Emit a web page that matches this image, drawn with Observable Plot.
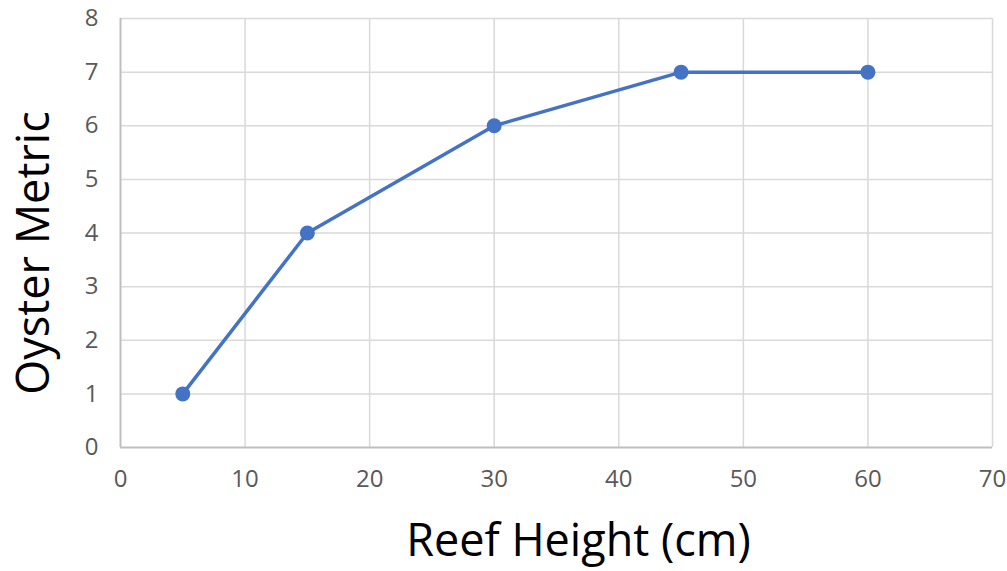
<!DOCTYPE html>
<html>
<head>
<meta charset="utf-8">
<script src="https://cdn.jsdelivr.net/npm/d3@7"></script>
<script src="https://cdn.jsdelivr.net/npm/@observablehq/plot@0.6"></script>
<style>
  html, body { margin: 0; padding: 0; }
  body { width: 1007px; height: 571px; overflow: hidden; }
  #chart svg { background: linear-gradient(to bottom, #e7e7e7, #dcdcdc); display: block; }
  #chart svg g[aria-label="x-axis tick label"],
  #chart svg g[aria-label="y-axis tick label"] { font-size: 24px !important; }
</style>
</head>
<body>
<div id="chart"></div>
<script>
const reefHeight = [5, 15, 30, 45, 60];
const oysterMetric = [1, 4, 6, 7, 7];
const xTicks = [0, 10, 20, 30, 40, 50, 60, 70];
const yTicks = [0, 1, 2, 3, 4, 5, 6, 7, 8];
const xTitle = "Reef Height (cm)";
const yTitle = "Oyster Metric";

const data = reefHeight.map((x, i) => ({x, y: oysterMetric[i]}));

const chart = Plot.plot({
  width: 1007,
  height: 571,
  marginLeft: 120,
  marginRight: 15,
  marginTop: 18,
  marginBottom: 124,
  style: {fontFamily: "'Open Sans', sans-serif", fontSize: "24px", background: "transparent", overflow: "visible"},
  x: {domain: [0, 70], ticks: xTicks},
  y: {domain: [0, 8], ticks: yTicks},
  marks: [
    Plot.gridX(xTicks.filter(d => d > 0), {stroke: "#d9d9d9", strokeOpacity: 1, strokeWidth: 1.5}),
    Plot.gridY(yTicks.filter(d => d > 0), {stroke: "#d9d9d9", strokeOpacity: 1, strokeWidth: 1.5}),
    Plot.ruleX([0], {stroke: "#bfbfbf", strokeWidth: 2}),
    Plot.ruleY([0], {stroke: "#bfbfbf", strokeWidth: 2}),
    Plot.axisX(xTicks, {tickSize: 0, tickPadding: 22, fontSize: 24, fill: "#595959", label: null, tickFormat: "d"}),
    Plot.axisY(yTicks, {tickSize: 0, tickPadding: 22, fontSize: 24, fill: "#595959", label: null, tickFormat: "d"}),
    Plot.line(data, {x: "x", y: "y", stroke: "#4472c4", strokeWidth: 3.5}),
    Plot.dot(data, {x: "x", y: "y", fill: "#4472c4", stroke: "none", r: 7.5}),
    Plot.text([xTitle], {frameAnchor: "bottom", dx: 22, dy: 108, fontSize: 45, fill: "#000", lineAnchor: "bottom"}),
    Plot.text([yTitle], {frameAnchor: "left", textAnchor: "middle", dx: -86, dy: 20, rotate: -90, fontSize: 45, fill: "#000"})
  ]
});
document.getElementById("chart").appendChild(chart);
</script>
</body>
</html>
